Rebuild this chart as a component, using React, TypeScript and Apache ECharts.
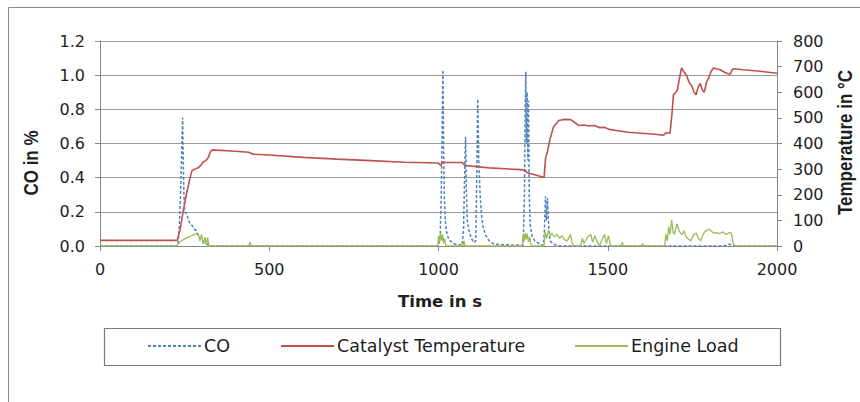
import React, { useEffect, useRef } from "react";
import * as echarts from "echarts";

const seriesNames = ["CO", "Catalyst Temperature", "Engine Load"];

// Catalyst temperature (°C) vs time (s)
const tempTime = [0, 100, 200, 228, 236, 245, 255, 265, 272, 280, 290, 300, 306, 312, 320, 326, 332, 345, 400, 440, 452, 500, 600, 700, 800, 900, 1000, 1006, 1012, 1020, 1070, 1078, 1150, 1240, 1255, 1262, 1300, 1312, 1316, 1322, 1330, 1340, 1355, 1370, 1390, 1405, 1415, 1430, 1445, 1460, 1475, 1490, 1505, 1530, 1560, 1600, 1640, 1665, 1672, 1684, 1690, 1694, 1700, 1706, 1712, 1718, 1725, 1733, 1740, 1748, 1755, 1761, 1767, 1773, 1779, 1785, 1792, 1798, 1805, 1812, 1820, 1832, 1845, 1855, 1862, 1868, 1875, 1900, 1950, 2000];
const tempValues = [22, 22, 22, 22, 60, 130, 200, 260, 295, 300, 305, 318, 330, 332, 345, 368, 375, 374, 370, 366, 358, 355, 346, 339, 333, 327, 324, 314, 328, 326, 326, 314, 305, 298, 296, 286, 272, 268, 340, 370, 420, 465, 490, 494, 493, 480, 470, 472, 468, 470, 462, 463, 455, 450, 444, 440, 436, 432, 442, 440, 520, 590, 598, 610, 655, 695, 680, 665, 640, 625, 600, 590, 620, 635, 610, 600, 640, 655, 680, 695, 692, 688, 678, 672, 670, 690, 692, 688, 682, 674];

// CO (%) vs time (s)
const coTime = [0, 230, 234, 237, 240, 242, 244, 246, 248, 250, 255, 260, 266, 272, 278, 284, 290, 296, 305, 315, 330, 1000, 1005, 1008, 1011, 1013, 1015, 1017, 1020, 1024, 1030, 1040, 1050, 1070, 1074, 1077, 1080, 1082, 1085, 1090, 1096, 1104, 1110, 1113, 1116, 1119, 1123, 1128, 1133, 1140, 1150, 1160, 1180, 1250, 1254, 1256, 1258, 1260, 1262, 1264, 1266, 1268, 1271, 1276, 1285, 1300, 1310, 1313, 1316, 1319, 1322, 1326, 1330, 1340, 1360, 1840, 1860, 1880, 2000];
const coValues = [0, 0, 0.1, 0.25, 0.45, 0.6, 0.75, 0.5, 0.3, 0.2, 0.19, 0.16, 0.13, 0.12, 0.1, 0.09, 0.06, 0.04, 0.02, 0.01, 0, 0, 0.05, 0.3, 0.7, 1.03, 0.6, 0.3, 0.15, 0.08, 0.04, 0.02, 0.01, 0.005, 0.1, 0.4, 0.64, 0.35, 0.15, 0.09, 0.05, 0.02, 0.03, 0.4, 0.86, 0.5, 0.3, 0.16, 0.1, 0.06, 0.03, 0.015, 0.008, 0.005, 0.3, 0.8, 1.02, 0.6, 0.9, 0.5, 0.85, 0.3, 0.12, 0.06, 0.03, 0.01, 0.005, 0.1, 0.29, 0.15, 0.28, 0.1, 0.03, 0.01, 0, 0, 0.01, 0, 0];

// Engine load (%) vs time (s), on the right-hand axis
const loadTime = [0, 228, 232, 240, 250, 260, 270, 280, 290, 295, 300, 305, 310, 314, 318, 322, 440, 443, 446, 998, 1000, 1003, 1006, 1009, 1012, 1015, 1018, 1022, 1072, 1075, 1078, 1248, 1250, 1253, 1256, 1259, 1262, 1266, 1270, 1274, 1312, 1315, 1320, 1325, 1330, 1335, 1342, 1350, 1358, 1365, 1372, 1380, 1390, 1395, 1400, 1420, 1425, 1430, 1440, 1450, 1455, 1462, 1468, 1475, 1485, 1490, 1496, 1502, 1508, 1540, 1543, 1546, 1600, 1603, 1606, 1668, 1672, 1676, 1680, 1684, 1689, 1693, 1697, 1701, 1705, 1710, 1715, 1720, 1725, 1730, 1735, 1740, 1745, 1750, 1755, 1762, 1768, 1775, 1780, 1786, 1793, 1800, 1808, 1815, 1822, 1830, 1840, 1850, 1858, 1865, 1870, 1875, 2000];
const loadValues = [0, 0, 10, 20, 28, 34, 40, 45, 50, 20, 45, 8, 35, 3, 33, 0, 0, 15, 0, 0, 40, 15, 50, 20, 45, 10, 30, 0, 0, 20, 0, 0, 45, 20, 50, 25, 48, 15, 35, 0, 0, 55, 30, 62, 40, 50, 35, 45, 30, 40, 25, 20, 45, 10, 0, 0, 30, 10, 35, 45, 15, 40, 20, 0, 30, 45, 10, 40, 0, 0, 15, 0, 0, 10, 0, 0, 45, 20, 75, 45, 101, 55, 45, 70, 86, 60, 50, 45, 60, 40, 30, 25, 20, 35, 45, 50, 30, 20, 40, 55, 62, 66, 55, 50, 52, 48, 55, 45, 52, 50, 12, 0, 0];

const legendLefts = [147, 280, 574];

const zip = (t: number[], v: number[]) => t.map((x, i) => [x, v[i]]);

export default function App() {
  const ref = useRef<HTMLDivElement>(null);
  useEffect(() => {
    const chart = echarts.init(ref.current!, null, { renderer: "svg" });
    const axisColor = "#868686";
    const labelStyle = { fontFamily: "DejaVu Sans", fontSize: 16, color: "#1e1e1e" };
    chart.setOption({
      animation: false,
      backgroundColor: "#ffffff",
      textStyle: { fontFamily: "DejaVu Sans" },
      grid: { left: 100, right: 83, top: 41, bottom: 156, containLabel: false },
      xAxis: {
        type: "value",
        min: 0,
        max: 2000,
        interval: 500,
        axisLine: { show: true, onZero: false, lineStyle: { color: axisColor, width: 1 } },
        axisTick: { show: true, length: 5, lineStyle: { color: axisColor } },
        axisLabel: { ...labelStyle, margin: 15, formatter: (v: number) => String(v) },
        splitLine: { show: false },
      },
      yAxis: [
        {
          type: "value",
          min: 0,
          max: 1.2,
          interval: 0.2,
          position: "left",
          axisLine: { show: true, lineStyle: { color: axisColor, width: 1 } },
          axisTick: { show: true, length: 5, lineStyle: { color: axisColor } },
          axisLabel: { ...labelStyle, margin: 15, formatter: (v: number) => v.toFixed(1) },
          splitLine: { show: true, lineStyle: { color: "#9a9a9a", width: 1 } },
        },
        {
          type: "value",
          min: 0,
          max: 800,
          interval: 100,
          position: "right",
          axisLine: { show: true, lineStyle: { color: axisColor, width: 1 } },
          axisTick: { show: true, length: 5, lineStyle: { color: axisColor } },
          axisLabel: { ...labelStyle, margin: 16, formatter: (v: number) => String(v) },
          splitLine: { show: false },
        },
      ],
      legend: seriesNames.map((name, i) => ({
        left: legendLefts[i],
        top: 337,
        padding: 0,
        itemWidth: 53,
        itemHeight: 14,
        itemStyle: { opacity: 0 },
        textStyle: { fontFamily: "DejaVu Sans", fontSize: 17.5, color: "#1e1e1e", padding: [0, 0, 0, -2] },
        data: [name],
      })),
      graphic: [
        {
          type: "rect",
          silent: true,
          shape: { x: 8.5, y: 7.5, width: 900, height: 420 },
          style: { fill: "none", stroke: "#8a8a8a", lineWidth: 1 },
        },
        {
          type: "rect",
          silent: true,
          shape: { x: 104.5, y: 328.5, width: 676, height: 37 },
          style: { fill: "none", stroke: "#7a7a7a", lineWidth: 1.2 },
        },
        {
          type: "text",
          x: 31,
          y: 163,
          rotation: Math.PI / 2,
          scaleY: 1.15,
          style: {
            text: "CO in %",
            fontFamily: "Liberation Sans",
            fontWeight: "bold",
            fontSize: 17,
            fill: "#1e1e1e",
            align: "center",
            verticalAlign: "middle",
            textAlign: "center",
            textVerticalAlign: "middle",
          },
        },
        {
          type: "text",
          x: 845,
          y: 142.5,
          rotation: Math.PI / 2,
          scaleY: 1.15,
          style: {
            text: "Temperature in °C",
            fontFamily: "Liberation Sans",
            fontWeight: "bold",
            fontSize: 17,
            fill: "#1e1e1e",
            align: "center",
            verticalAlign: "middle",
            textAlign: "center",
            textVerticalAlign: "middle",
          },
        },
        {
          type: "text",
          x: 440,
          y: 301.5,
          style: {
            text: "Time in s",
            fontFamily: "DejaVu Sans",
            fontWeight: "bold",
            fontSize: 16.5,
            fill: "#1e1e1e",
            align: "center",
            verticalAlign: "middle",
            textAlign: "center",
            textVerticalAlign: "middle",
          },
        },
      ],
      series: [
        {
          name: seriesNames[0],
          type: "line",
          yAxisIndex: 0,
          symbol: "none",
          data: zip(coTime, coValues),
          lineStyle: { color: "#4F81BD", width: 1.5, type: [3, 2] },
          itemStyle: { color: "#4F81BD" },
          z: 2,
        },
        {
          name: seriesNames[1],
          type: "line",
          yAxisIndex: 1,
          symbol: "none",
          data: zip(tempTime, tempValues),
          lineStyle: { color: "#C0504D", width: 1.6 },
          itemStyle: { color: "#C0504D" },
          z: 3,
        },
        {
          name: seriesNames[2],
          type: "line",
          yAxisIndex: 1,
          symbol: "none",
          data: zip(loadTime, loadValues),
          lineStyle: { color: "#9BBB59", width: 1.3 },
          itemStyle: { color: "#9BBB59" },
          z: 4,
        },
      ],
    });
    return () => chart.dispose();
  }, []);
  return (
    <div
      ref={ref}
      style={{ position: "fixed", left: 0, top: 0, width: 860, height: 402, background: "#fff" }}
    />
  );
}
